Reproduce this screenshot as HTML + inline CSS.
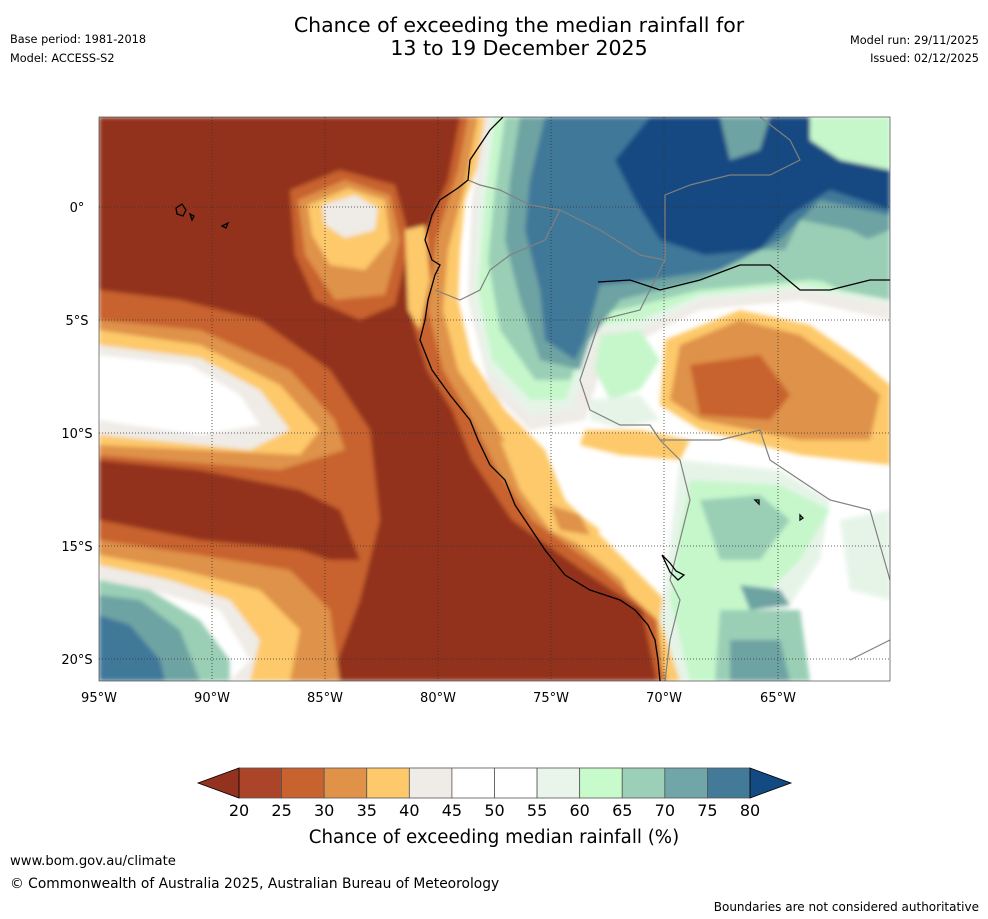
<!DOCTYPE html>
<html><head><meta charset="utf-8"><style>
body{margin:0;background:#fff;width:988px;height:919px;overflow:hidden;font-family:"DejaVu Sans","Liberation Sans",sans-serif;}
svg{position:absolute;left:0;top:0}
</style></head><body>
<svg id="chart" width="988" height="919">
<text x="519" y="32" font-size="20.5" text-anchor="middle">Chance of exceeding the median rainfall for</text>
<text x="519" y="55" font-size="20.5" text-anchor="middle">13 to 19 December 2025</text>
<text x="10" y="43" font-size="11.3">Base period: 1981-2018</text>
<text x="10" y="62" font-size="11.3">Model: ACCESS-S2</text>
<text x="979" y="44" font-size="11.3" text-anchor="end">Model run: 29/11/2025</text>
<text x="979" y="62" font-size="11.3" text-anchor="end">Issued: 02/12/2025</text>
<defs>
<clipPath id="mc"><rect x="99" y="117" width="791" height="564"/></clipPath>
<filter id="bl" x="-5%" y="-5%" width="110%" height="110%"><feGaussianBlur stdDeviation="2"/></filter>
</defs>
<g clip-path="url(#mc)">
<rect x="99" y="117" width="791" height="564" fill="#fff"/>
<g filter="url(#bl)">
<polygon fill="#fdc96a" points="99,117 490,117 480,160 465,200 460,250 458,300 472,360 505,410 545,450 565,500 605,540 665,600 685,681 99,681"/>
<polygon fill="#df9248" points="99,117 478,117 466,180 448,250 443,310 458,370 492,420 522,470 548,520 622,580 668,681 99,681"/>
<polygon fill="#c8622f" points="99,117 468,117 458,170 436,240 428,310 443,370 472,420 497,470 532,520 602,570 657,620 664,681 99,681"/>
<polygon fill="#93331f" points="99,117 460,117 448,180 418,250 412,320 427,370 452,410 472,460 512,520 582,570 642,610 657,681 99,681"/>
<polygon fill="#c8622f" points="290,190 340,170 395,185 410,240 395,305 360,320 315,300 295,255"/>
<polygon fill="#df9248" points="298,200 345,180 390,195 400,240 385,295 335,300 305,255"/>
<polygon fill="#fdc96a" points="308,205 348,188 385,200 390,240 365,270 330,265 312,235"/>
<polygon fill="#efebe6" points="322,205 355,195 378,208 375,230 345,238 325,225"/>
<polygon fill="#fdc96a" points="405,230 425,225 430,280 420,330 408,310"/>
<polygon fill="#c8622f" points="99,290 180,300 260,320 330,370 370,430 380,520 360,600 330,681 99,681"/>
<polygon fill="#df9248" points="99,320 200,330 290,370 335,420 345,450 280,470 99,455"/>
<polygon fill="#fdc96a" points="99,330 200,345 280,385 320,430 300,455 200,450 99,445"/>
<polygon fill="#efebe6" points="99,345 200,358 260,390 290,430 250,450 150,440 99,435"/>
<polygon fill="#fff" points="99,355 190,365 240,395 260,425 200,435 130,425 99,420"/>
<polygon fill="#93331f" points="99,460 200,470 300,490 340,510 360,560 330,560 300,550 200,540 99,520"/>
<polygon fill="#df9248" points="99,540 200,555 290,570 330,610 340,681 99,681"/>
<polygon fill="#fdc96a" points="99,555 180,570 260,590 300,630 290,681 99,681"/>
<polygon fill="#efebe6" points="99,565 170,580 230,600 260,640 250,681 99,681"/>
<polygon fill="#fff" points="150,590 220,610 250,660 230,681 160,681"/>
<polygon fill="#9acfb6" points="99,580 150,590 200,620 230,660 230,681 99,681"/>
<polygon fill="#6ea3a3" points="99,595 140,600 180,630 200,681 99,681"/>
<polygon fill="#41789a" points="99,615 130,625 160,660 165,681 99,681"/>
<polygon fill="#efebe6" points="485,117 890,117 890,320 800,300 700,310 640,340 610,340 585,420 530,430 490,390 468,300 472,200"/>
<polygon fill="#e6f4e8" points="490,117 890,117 890,305 800,290 700,300 640,330 600,330 572,410 530,415 488,370 472,300 478,200"/>
<polygon fill="#c6f7cb" points="495,117 890,117 890,300 800,285 700,295 640,320 595,325 565,400 530,400 492,360 478,290 485,200"/>
<polygon fill="#9acfb6" points="505,117 890,117 890,290 810,280 700,290 640,305 595,315 570,380 535,380 500,330 488,260 495,190"/>
<polygon fill="#6ea3a3" points="520,117 890,117 890,230 840,250 760,250 700,280 620,300 590,340 580,370 540,360 520,300 505,240 510,180"/>
<polygon fill="#41789a" points="545,117 890,117 890,215 820,200 780,240 720,270 650,280 600,285 585,340 575,360 545,340 540,290 525,230 530,180"/>
<polygon fill="#134a82" points="650,117 890,117 890,210 830,190 790,215 760,250 705,255 660,240 635,200 615,160"/>
<polygon fill="#6ea3a3" points="720,117 770,117 760,150 730,160"/>
<polygon fill="#c6f7cb" points="810,117 890,117 890,170 840,160 810,140"/>
<polygon fill="#9acfb6" points="800,220 850,230 890,250 890,300 840,290 780,260"/>
<polygon fill="#c6f7cb" points="600,335 640,330 660,360 640,390 610,400 595,370"/>
<polygon fill="#e6f4e8" points="590,400 640,395 660,420 620,428 590,420"/>
<polygon fill="#fdc96a" points="665,340 740,310 810,325 860,360 890,385 890,465 800,455 700,430 660,405"/>
<polygon fill="#df9248" points="680,345 740,320 800,335 850,370 880,395 870,440 800,440 700,420 670,400"/>
<polygon fill="#c8622f" points="690,365 760,355 790,395 770,420 700,415"/>
<polygon fill="#fdc96a" points="585,430 640,430 690,440 680,460 620,455 580,445"/>
<polygon fill="#fdc96a" points="500,440 540,460 560,500 600,530 590,550 550,530 520,490"/>
<polygon fill="#df9248" points="550,505 580,515 590,535 560,530"/>
<polygon fill="#e6f4e8" points="680,460 780,470 830,500 820,560 780,620 760,681 680,681 660,620 670,540"/>
<polygon fill="#e6f4e8" points="840,520 890,510 890,600 850,590"/>
<polygon fill="#c6f7cb" points="690,480 780,485 830,510 800,560 760,600 740,681 690,681 670,600 680,530"/>
<polygon fill="#9acfb6" points="700,500 760,495 790,520 760,560 720,560"/>
<polygon fill="#9acfb6" points="720,610 800,610 810,681 715,681"/>
<polygon fill="#6ea3a3" points="730,640 780,640 790,681 730,681"/>
<polygon fill="#6ea3a3" points="740,585 780,590 790,605 750,610"/>
</g>
<g stroke="#333" stroke-width="0.8" stroke-dasharray="1,2">
<line x1="212" y1="117" x2="212" y2="681"/><line x1="325" y1="117" x2="325" y2="681"/><line x1="438" y1="117" x2="438" y2="681"/><line x1="551" y1="117" x2="551" y2="681"/><line x1="664" y1="117" x2="664" y2="681"/><line x1="778" y1="117" x2="778" y2="681"/>
<line x1="99" y1="207" x2="890" y2="207"/><line x1="99" y1="320" x2="890" y2="320"/><line x1="99" y1="433" x2="890" y2="433"/><line x1="99" y1="546" x2="890" y2="546"/><line x1="99" y1="659" x2="890" y2="659"/>
</g>
<g fill="none" stroke="#808080" stroke-width="1.2">
<polyline points="468,180 480,185 500,190 530,205 560,210 545,240 510,255 490,270 480,290 460,300 435,290"/>
<polyline points="560,210 600,230 640,255 665,260"/>
<polyline points="665,260 640,310 600,320 590,350 580,380 590,410 620,425 650,425 660,440"/>
<polyline points="660,440 680,460 690,500 680,540 670,580 680,600 670,640 665,681"/>
<polyline points="660,440 720,440 760,430 770,460 800,480 830,500 870,510 890,580"/>
<polyline points="850,660 890,640"/>
<polyline points="760,117 790,140 800,160 770,175 730,175 690,185 665,195 665,260"/>
</g>
<g fill="none" stroke="#000" stroke-width="1.3">
<polyline points="503,117 490,130 478,148 470,160 468,180 458,188 440,200 432,215 425,240 432,260 440,265 435,275 428,300 425,320 420,340 432,370 450,395 470,420 478,440 490,465 505,480 515,505 525,520 545,550 565,575 590,590 620,600 635,610 648,625 655,640 658,660 660,681"/>
<polyline points="598,282 630,280 660,290 700,280 740,265 770,265 800,290 830,290 870,280 890,280"/>
<path d="M176,208 l6,-4 4,6 -3,6 -6,-2z M190,214 l4,2 -2,4z M222,226 l6,-3 -2,5z M662,555 l8,8 6,8 8,4 -6,5 -8,-8z M755,500 l4,0 0,4z M800,515 l3,3 -3,2z"/>
</g>
</g>
<rect x="99" y="117" width="791" height="564" fill="none" stroke="#000" stroke-width="0.5"/>
<g font-size="13">
<text x="77" y="212" text-anchor="middle">0°</text>
<text x="77" y="325" text-anchor="middle">5°S</text>
<text x="77" y="438" text-anchor="middle">10°S</text>
<text x="77" y="551" text-anchor="middle">15°S</text>
<text x="77" y="664" text-anchor="middle">20°S</text>
<text x="99" y="702" text-anchor="middle">95°W</text>
<text x="212" y="702" text-anchor="middle">90°W</text>
<text x="325" y="702" text-anchor="middle">85°W</text>
<text x="438" y="702" text-anchor="middle">80°W</text>
<text x="551" y="702" text-anchor="middle">75°W</text>
<text x="664" y="702" text-anchor="middle">70°W</text>
<text x="778" y="702" text-anchor="middle">65°W</text>
</g>
<g id="cbar"></g>
<text x="494" y="843" font-size="18.2" text-anchor="middle">Chance of exceeding median rainfall (%)</text>
<text x="10" y="865" font-size="13.2">www.bom.gov.au/climate</text>
<text x="10" y="888" font-size="13.8">© Commonwealth of Australia 2025, Australian Bureau of Meteorology</text>
<text x="979" y="911" font-size="12" text-anchor="end">Boundaries are not considered authoritative</text>
</svg>
<script>
const levels = [20,25,30,35,40,45,50,55,60,65,70,75,80];
const binColors = ["#ab4428","#c8622f","#df9248","#fdc96a","#efebe6","#ffffff","#ffffff","#e9f5ea","#c8fbcb","#9ccfb8","#70a6a8","#427a98"];
const underColor = "#93331f";
const overColor = "#134a82";
const NS="http://www.w3.org/2000/svg";
const g=document.getElementById('cbar');
const x0=239,x1=750,y0=768,y1=798;
function xs(v){return x0+(v-levels[0])/(levels[levels.length-1]-levels[0])*(x1-x0);}
for(let i=0;i<binColors.length;i++){
  const r=document.createElementNS(NS,'rect');
  r.setAttribute('x',xs(levels[i]));r.setAttribute('y',y0);
  r.setAttribute('width',xs(levels[i+1])-xs(levels[i]));r.setAttribute('height',y1-y0);
  r.setAttribute('fill',binColors[i]);r.setAttribute('stroke','#555');r.setAttribute('stroke-width','0.8');
  
  
  g.appendChild(r);
}
const tl=document.createElementNS(NS,'polygon');
tl.setAttribute('points',`${x0},${y0} ${x0-41},${(y0+y1)/2} ${x0},${y1}`);
tl.setAttribute('fill',underColor);tl.setAttribute('stroke','#000');tl.setAttribute('stroke-width','0.8');


g.appendChild(tl);
const tr=document.createElementNS(NS,'polygon');
tr.setAttribute('points',`${x1},${y0} ${x1+41},${(y0+y1)/2} ${x1},${y1}`);
tr.setAttribute('fill',overColor);tr.setAttribute('stroke','#000');tr.setAttribute('stroke-width','0.8');


g.appendChild(tr);
levels.forEach(v=>{
  const t=document.createElementNS(NS,'text');
  t.setAttribute('x',xs(v));t.setAttribute('y',816);t.setAttribute('font-size','16');t.setAttribute('text-anchor','middle');
  t.textContent=v;
  
  
  g.appendChild(t);
});
</script>
</body></html>
